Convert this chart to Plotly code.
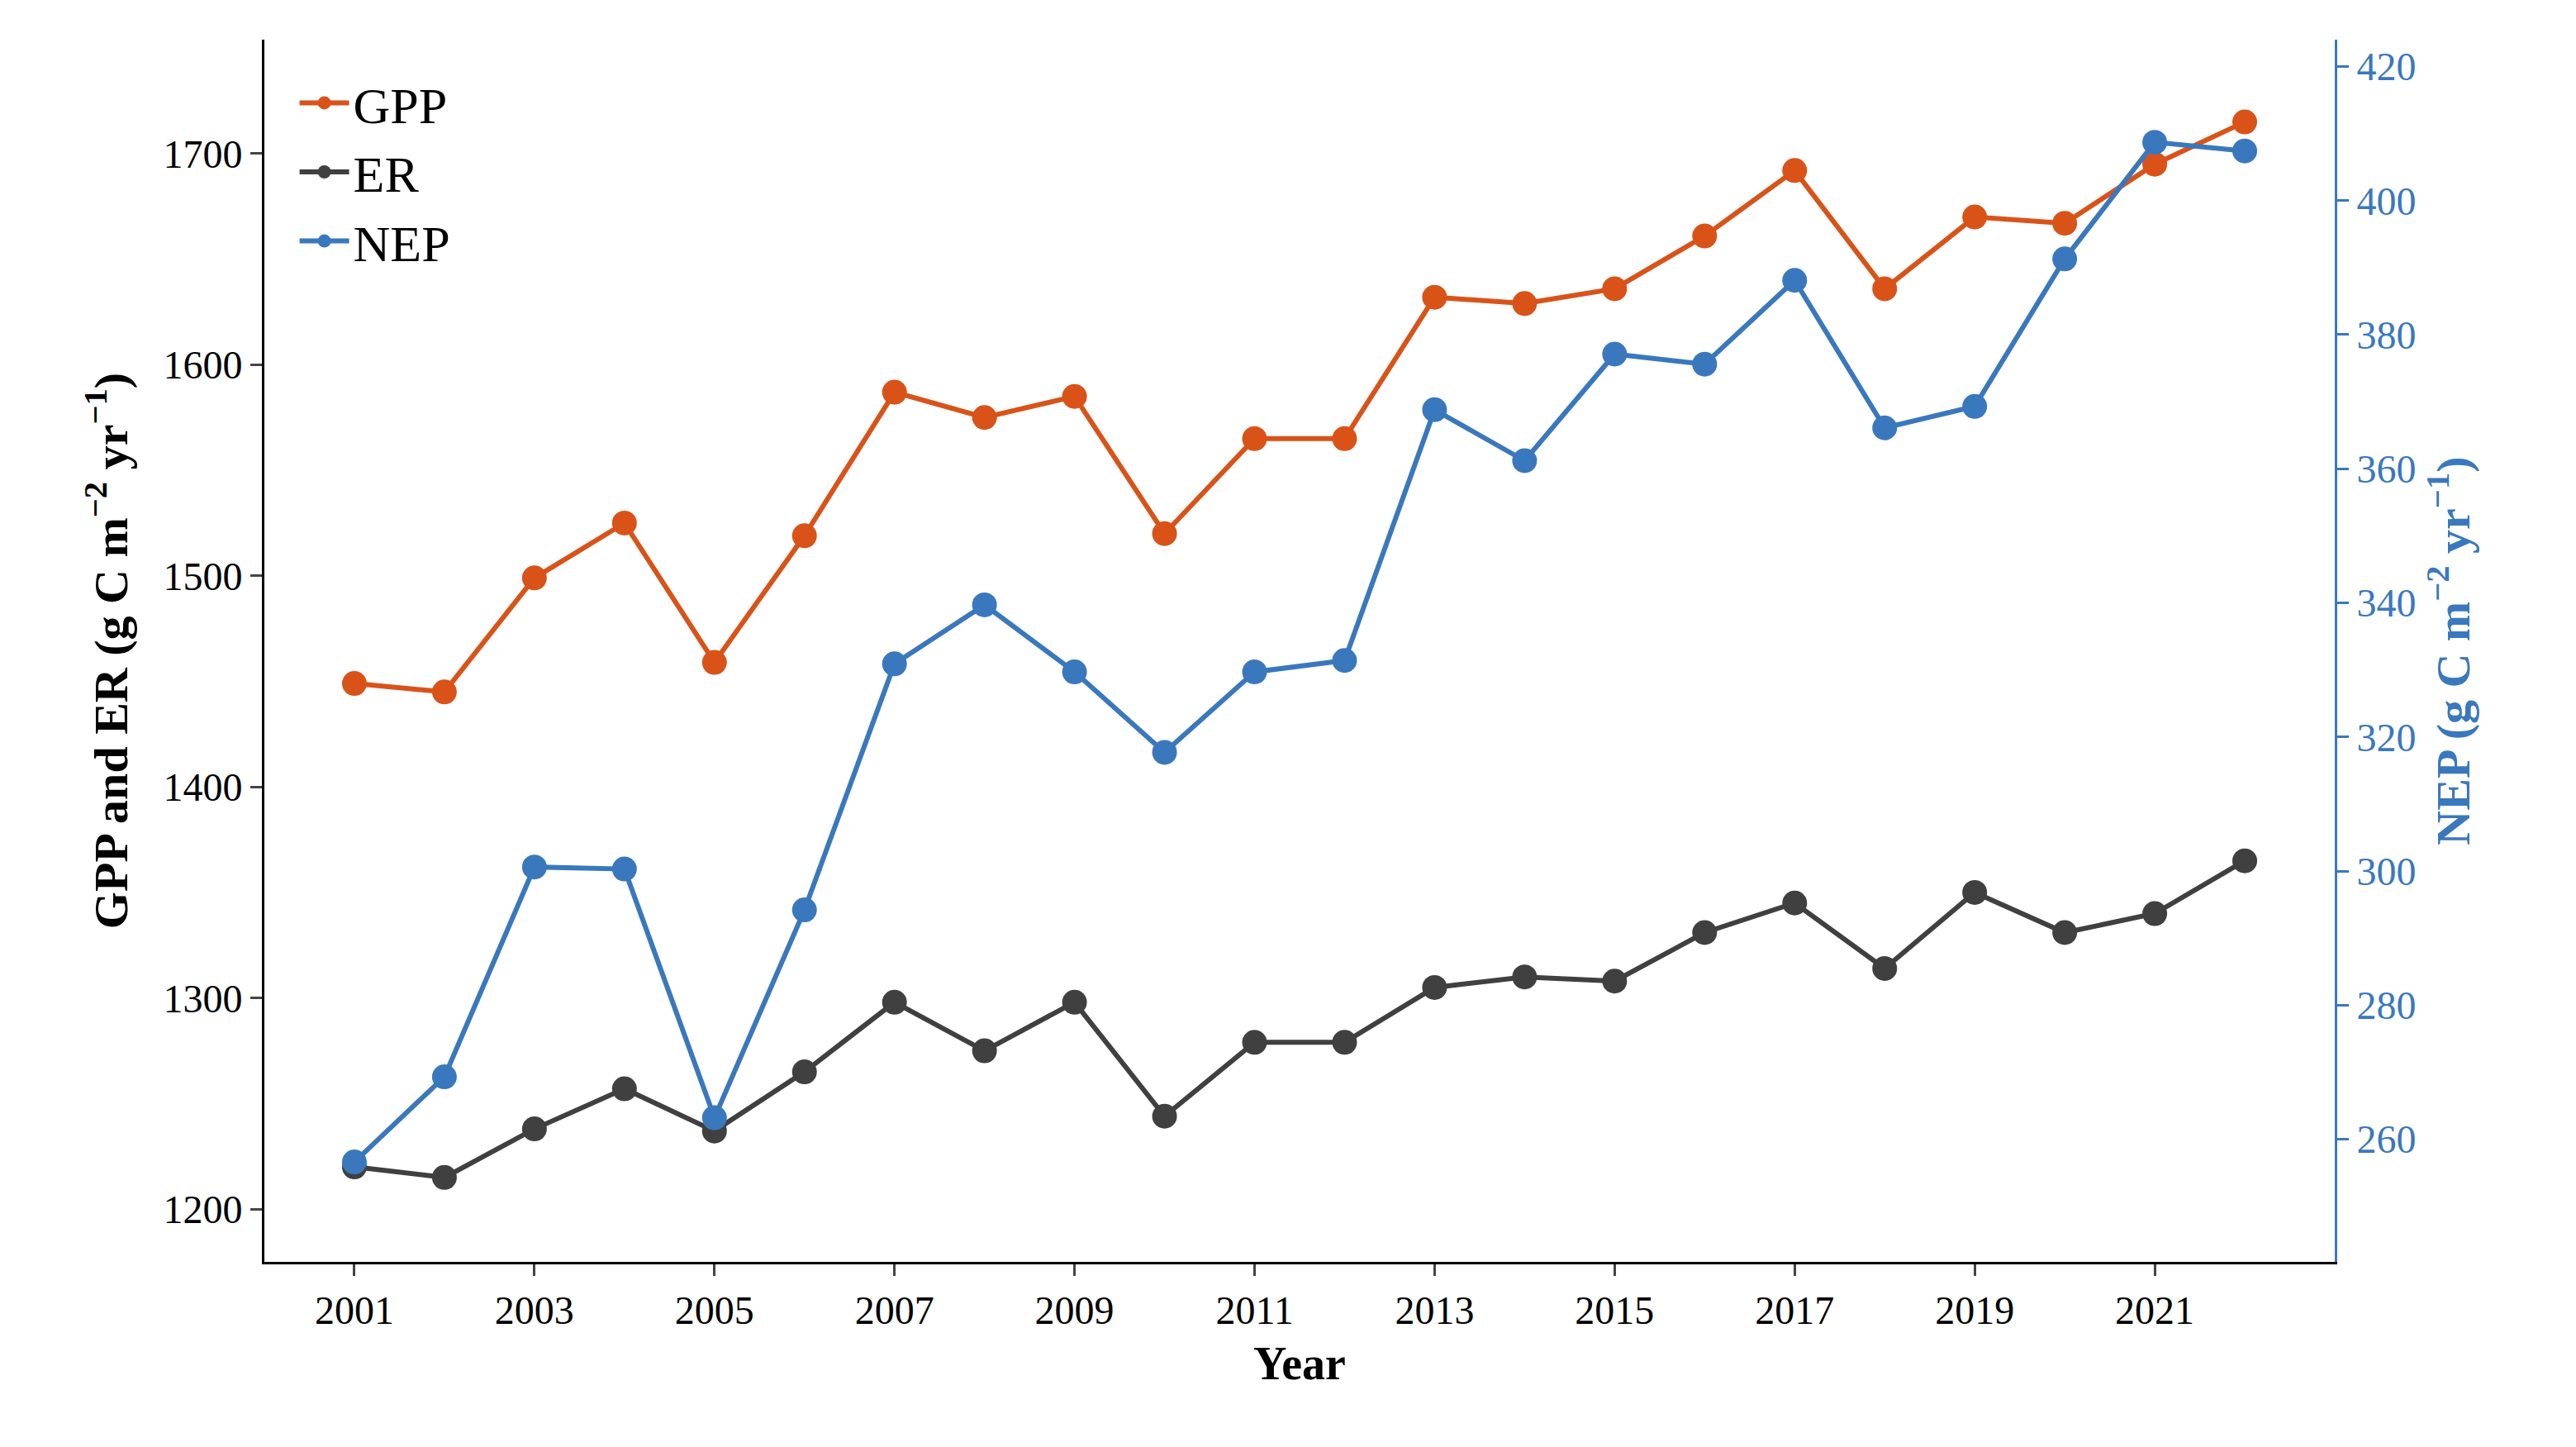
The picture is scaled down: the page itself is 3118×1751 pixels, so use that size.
import plotly.graph_objects as go

# Annual values
years = list(range(2001, 2023))
gpp = [1449, 1445, 1499, 1525, 1459, 1519, 1587, 1575, 1585, 1520, 1565,
       1565, 1632, 1629, 1636, 1661, 1692, 1636, 1670, 1667, 1695, 1715]
er = [1220, 1215, 1238, 1257, 1237, 1265, 1298, 1275, 1298, 1244, 1279,
      1279, 1305, 1310, 1308, 1331, 1345, 1314, 1350, 1331, 1340, 1365]
nep = [256.6, 269.3, 300.6, 300.3, 263.2, 294.2, 330.9, 339.7, 329.7, 317.7, 329.7,
       331.4, 368.8, 361.2, 377.1, 375.6, 388.1, 366.1, 369.3, 391.3, 408.7, 407.4]

ORANGE = "#D95319"
DARK = "#404040"
BLUE = "#3A78BE"
FONT = "Liberation Serif"

fig = go.Figure()
fig.add_trace(go.Scatter(x=years, y=gpp, name="GPP", mode="lines+markers",
                         line=dict(color=ORANGE, width=6), marker=dict(size=30, color=ORANGE)))
fig.add_trace(go.Scatter(x=years, y=er, name="ER", mode="lines+markers",
                         line=dict(color=DARK, width=6), marker=dict(size=30, color=DARK)))
fig.add_trace(go.Scatter(x=years, y=nep, name="NEP", mode="lines+markers", yaxis="y2",
                         line=dict(color=BLUE, width=6), marker=dict(size=30, color=BLUE)))

fig.update_layout(
    width=3118, height=1751,
    margin=dict(l=312, r=300, t=40, b=232),
    plot_bgcolor="white", paper_bgcolor="white",
    font=dict(family=FONT, size=48, color="black"),
    legend=dict(x=0.015, y=0.98, xanchor="left", yanchor="top",
                font=dict(size=62), bgcolor="rgba(0,0,0,0)", itemwidth=60),
    xaxis=dict(range=[2000, 2023], tickmode="array", tickvals=years[::2],
               showline=True, linecolor="black", linewidth=3, ticks="outside",
               ticklen=14, tickwidth=3, showgrid=False, zeroline=False,
               title=dict(text="<b>Year</b>", font=dict(size=56), standoff=20)),
    yaxis=dict(range=[1175, 1754], tickvals=[1200, 1300, 1400, 1500, 1600, 1700],
               showline=True, linecolor="black", linewidth=3, ticks="outside",
               ticklen=14, tickwidth=3, showgrid=False, zeroline=False,
               title=dict(text="<b>GPP and ER (g C m<sup>\u22122</sup> yr<sup>\u22121</sup>)</b>",
                          font=dict(size=58), standoff=25)),
    yaxis2=dict(overlaying="y", side="right", range=[241.7, 424],
                tickvals=[260, 280, 300, 320, 340, 360, 380, 400, 420],
                showline=True, linecolor=BLUE, linewidth=3, ticks="outside",
                ticklen=14, tickwidth=3, tickcolor=BLUE, showgrid=False, zeroline=False,
                tickfont=dict(color=BLUE),
                title=dict(text="<b>NEP (g C m<sup>\u22122</sup> yr<sup>\u22121</sup>)</b>",
                           font=dict(size=58, color=BLUE), standoff=25)),
)

fig.write_html("out.html")
